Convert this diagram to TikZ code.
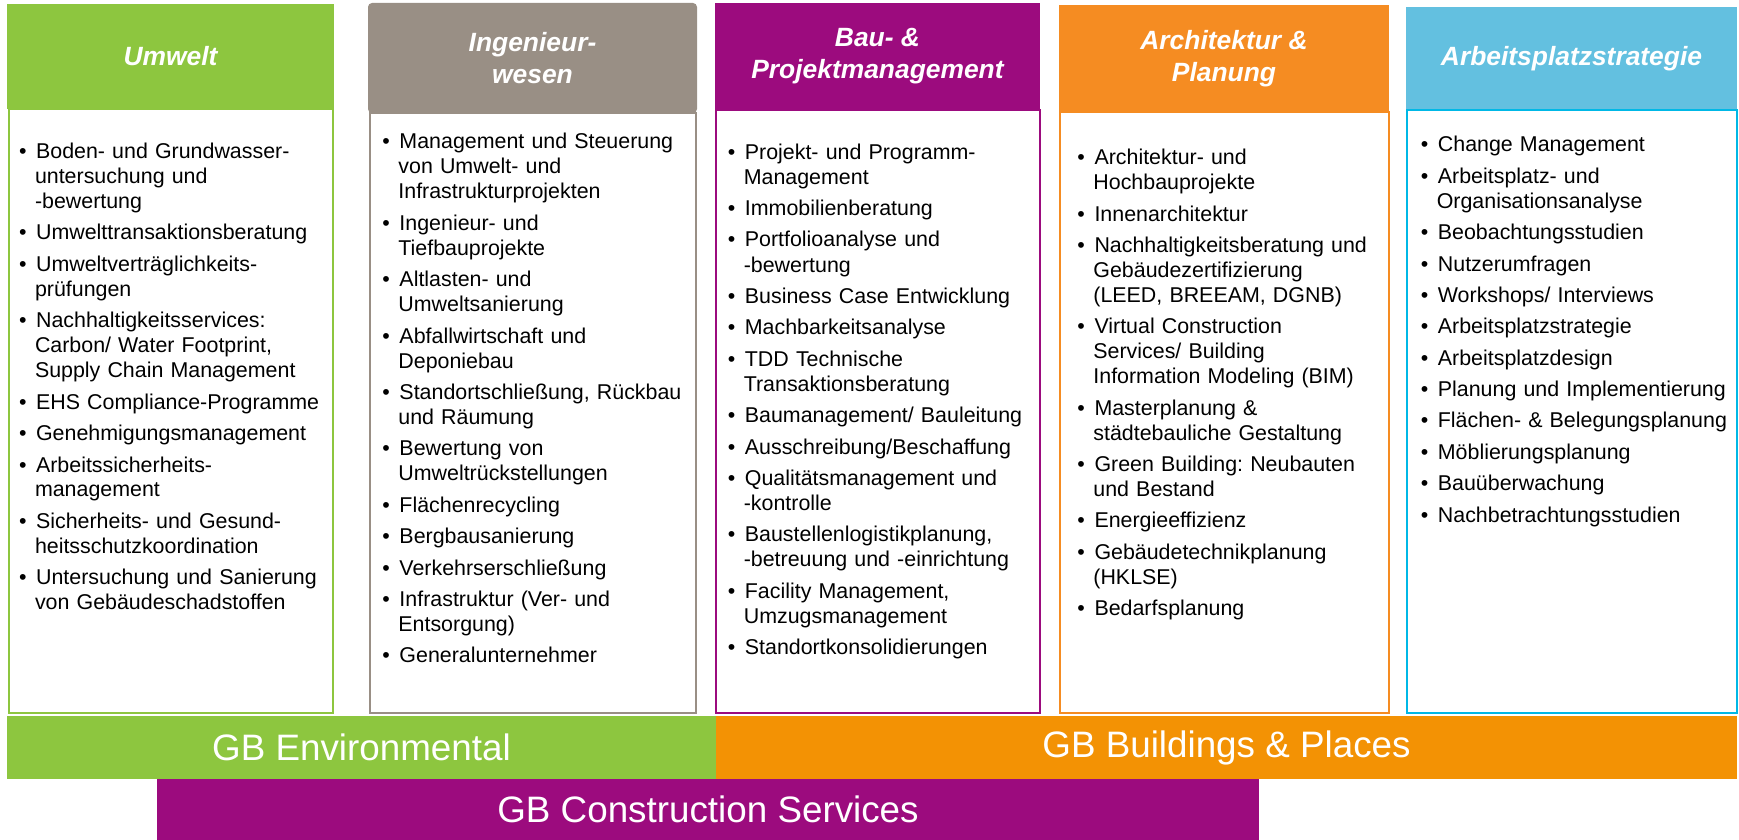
\documentclass[tikz,border=0pt]{standalone}
\usepackage{fontspec}
\setmainfont{Liberation Sans}
\usepackage{tikz}
\usetikzlibrary{positioning}
\frenchspacing
\definecolor{umwgreen}{RGB}{141,198,63}
\definecolor{inggrey}{RGB}{153,143,133}
\definecolor{baupurple}{RGB}{156,11,126}
\definecolor{archorange}{RGB}{245,140,34}
\definecolor{barorange}{RGB}{243,146,4}
\definecolor{apsblue}{RGB}{99,192,224}
\definecolor{apscyan}{RGB}{0,184,230}
\newenvironment{svclist}
  {\begin{list}{\textbullet}{\setlength{\leftmargin}{8pt}\setlength{\labelwidth}{3.2pt}%
   \setlength{\labelsep}{4.8pt}\setlength{\itemsep}{3.2pt}\setlength{\parsep}{0pt}%
   \setlength{\topsep}{0pt}\setlength{\partopsep}{0pt}}}
  {\end{list}}
\tikzstyle{head} =
  [rectangle, inner sep=0pt, outer sep=0pt, text=white, align=center,
   font=\fontsize{13.2}{16}\selectfont\bfseries\itshape]
\tikzstyle{body} =
  [rectangle, draw, line width=1pt, fill=white, inner sep=0pt, outer sep=0pt]
\tikzstyle{items} =
  [anchor=north west, inner sep=0pt, text width=170pt, align=left,
   font=\fontsize{10.7}{12.5}\selectfont]
\tikzstyle{bar} =
  [rectangle, inner sep=0pt, outer sep=0pt, text=white,
   font=\fontsize{18.4}{22}\selectfont]

\begin{document}
\begin{tikzpicture}[x=1pt, y=-1pt]
  \useasboundingbox (0,0) rectangle (869.5,420);

  % Kopfzeilen
  \node [head, fill=umwgreen, minimum width=163.5pt, minimum height=52.5pt] (h1) at (85.25,28.25) {Umwelt};
  \node [head, fill=inggrey, rounded corners=2pt, minimum width=164.5pt, minimum height=55pt] (h2) at (266.25,29) {Ingenieur-\\wesen};
  \node [head, fill=baupurple, minimum width=162.5pt, minimum height=53.5pt] (h3) at (438.75,28.25) {Bau- \&\\Projektmanagement};
  \node [head, fill=archorange, minimum width=165pt, minimum height=53.5pt] (h4) at (612,29.25) {Architektur \&\\Planung};
  \node [head, fill=apsblue, minimum width=165.5pt, minimum height=51.5pt] (h5) at (785.75,29.25) {Arbeitsplatzstrategie};

  % Rahmen
  \node [body, draw=umwgreen, below=0pt of h1, minimum width=162pt, minimum height=302pt] (b1) {};
  \node [body, draw=inggrey, below=0pt of h2, minimum width=163pt, minimum height=300pt] (b2) {};
  \node [body, draw=baupurple, below=0pt of h3, minimum width=162pt, minimum height=301.5pt] (b3) {};
  \node [body, draw=archorange, below=0pt of h4, minimum width=164.5pt, minimum height=300.5pt] (b4) {};
  \node [body, draw=apscyan, below=0pt of h5, minimum width=165pt, minimum height=301.5pt] (b5) {};

  % Leistungen
  \node [items] (l1) at (9.3,66.6) {\begin{svclist}
    \item Boden- und Grundwasser-\\untersuchung und\\-bewertung
    \item Umwelttransaktionsberatung
    \item Umweltverträglichkeits-\\prüfungen
    \item Nachhaltigkeitsservices:\\Carbon/ Water Footprint,\\Supply Chain Management
    \item EHS Compliance-Programme
    \item Genehmigungsmanagement
    \item Arbeitssicherheits-\\management
    \item Sicherheits- und Gesund-\\heitsschutzkoordination
    \item Untersuchung und Sanierung\\von Gebäudeschadstoffen
  \end{svclist}};
  \node [items] (l2) at (191,61.7) {\begin{svclist}
    \item Management und Steuerung\\von Umwelt- und\\Infrastrukturprojekten
    \item Ingenieur- und\\Tiefbauprojekte
    \item Altlasten- und\\Umweltsanierung
    \item Abfallwirtschaft und\\Deponiebau
    \item Standortschließung, Rückbau\\und Räumung
    \item Bewertung von\\Umweltrückstellungen
    \item Flächenrecycling
    \item Bergbausanierung
    \item Verkehrserschließung
    \item Infrastruktur (Ver- und\\Entsorgung)
    \item Generalunternehmer
  \end{svclist}};
  \node [items] (l3) at (363.7,66.9) {\begin{svclist}
    \item Projekt- und Programm-\\Management
    \item Immobilienberatung
    \item Portfolioanalyse und\\-bewertung
    \item Business Case Entwicklung
    \item Machbarkeitsanalyse
    \item TDD Technische\\Transaktionsberatung
    \item Baumanagement/ Bauleitung
    \item Ausschreibung/Beschaffung
    \item Qualitätsmanagement und\\-kontrolle
    \item Baustellenlogistikplanung,\\-betreuung und -einrichtung
    \item Facility Management,\\Umzugsmanagement
    \item Standortkonsolidierungen
  \end{svclist}};
  \node [items] (l4) at (538.5,69.6) {\begin{svclist}
    \item Architektur- und\\Hochbauprojekte
    \item Innenarchitektur
    \item Nachhaltigkeitsberatung und\\Gebäudezertifizierung\\(LEED, BREEAM, DGNB)
    \item Virtual Construction\\Services/ Building\\Information Modeling (BIM)
    \item Masterplanung \&\\städtebauliche Gestaltung
    \item Green Building: Neubauten\\und Bestand
    \item Energieeffizienz
    \item Gebäudetechnikplanung\\(HKLSE)
    \item Bedarfsplanung
  \end{svclist}};
  \node [items] (l5) at (710.2,63.2) {\begin{svclist}
    \item Change Management
    \item Arbeitsplatz- und\\Organisationsanalyse
    \item Beobachtungsstudien
    \item Nutzerumfragen
    \item Workshops/ Interviews
    \item Arbeitsplatzstrategie
    \item Arbeitsplatzdesign
    \item Planung und Implementierung
    \item Flächen- \& Belegungsplanung
    \item Möblierungsplanung
    \item Bauüberwachung
    \item Nachbetrachtungsstudien
  \end{svclist}};

  % Geschäftsbereiche
  \node [bar, fill=umwgreen, minimum width=354.5pt, minimum height=31.5pt] (env) at (180.75,373.75) {GB Environmental};
  \node [bar, fill=barorange, minimum width=510.5pt, minimum height=31.5pt, right=0pt of env] (bp) {GB Buildings \& Places};
  \node [bar, fill=baupurple, minimum width=551pt, minimum height=30.5pt] (cs) at (354,404.75) {GB Construction Services};
\end{tikzpicture}
\end{document}
